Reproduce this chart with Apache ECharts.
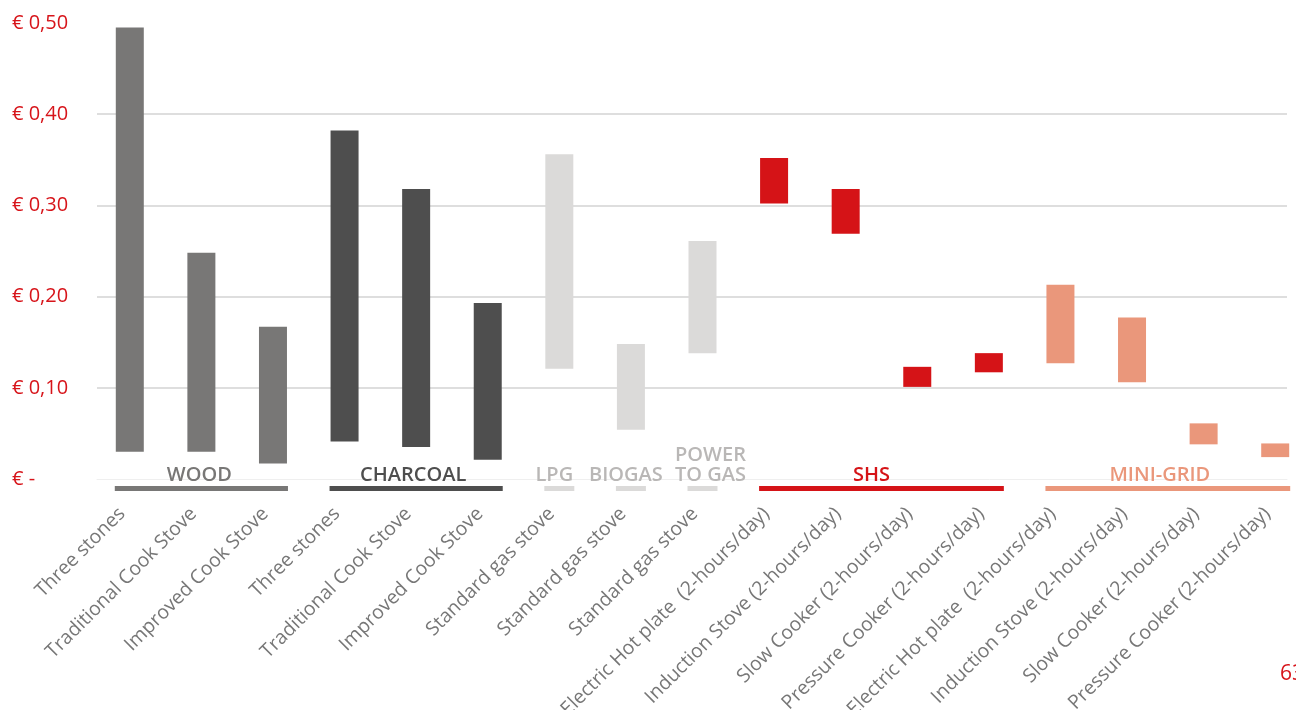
<!DOCTYPE html>
<html>
<head>
<meta charset="utf-8">
<script src="https://cdn.jsdelivr.net/npm/echarts@6/dist/echarts.min.js"></script>
<style>
html,body{margin:0;padding:0;background:#fff;}
#chart{width:1296px;height:710px;}
</style>
</head>
<body>
<div id="chart"></div>
<script>
const categories = [
  'Three stones', 'Traditional Cook Stove', 'Improved Cook Stove',
  'Three stones', 'Traditional Cook Stove', 'Improved Cook Stove',
  'Standard gas stove', 'Standard gas stove', 'Standard gas stove',
  'Electric Hot plate  (2-hours/day)', 'Induction Stove (2-hours/day)', 'Slow Cooker (2-hours/day)', 'Pressure Cooker (2-hours/day)',
  'Electric Hot plate  (2-hours/day)', 'Induction Stove (2-hours/day)', 'Slow Cooker (2-hours/day)', 'Pressure Cooker (2-hours/day)'
];
const lowValues  = [0.030, 0.030, 0.017, 0.041, 0.035, 0.021, 0.121, 0.054, 0.138, 0.302, 0.269, 0.101, 0.117, 0.127, 0.106, 0.038, 0.024];
const highValues = [0.495, 0.248, 0.167, 0.382, 0.318, 0.193, 0.356, 0.148, 0.261, 0.352, 0.318, 0.123, 0.138, 0.213, 0.177, 0.061, 0.039];
const groupNames = ['WOOD', 'CHARCOAL', 'LPG', 'BIOGAS', 'POWER\nTO GAS', 'SHS', 'MINI-GRID'];
const groupStart = [0, 3, 6, 7, 8, 9, 13];
const groupEnd   = [2, 5, 6, 7, 8, 12, 16];
const pageNumber = '63';

// styling
const groupBarColors  = ['#787776', '#4e4e4e', '#dbdad9', '#dbdad9', '#dbdad9', '#d51317', '#ea977b'];
const groupTextColors = ['#787776', '#4e4e4e', '#b9b7b6', '#b9b7b6', '#b9b7b6', '#d51317', '#ea977b'];
const groupLabelShift = [-2, -3, -5, -5, 8, -10, -8];
const RED = '#d7141a';
const BAR_W = 28;

function groupOf(i) {
  for (let g = 0; g < groupStart.length; g++) {
    if (i >= groupStart[g] && i <= groupEnd[g]) return g;
  }
  return 0;
}

const rangeData = highValues.map((h, i) => ({
  value: +(h - lowValues[i]).toFixed(4),
  itemStyle: { color: groupBarColors[groupOf(i)] }
}));

const groupData = groupNames.map((n, g) => [groupStart[g], groupEnd[g], g]);

const chart = echarts.init(document.getElementById('chart'));
chart.setOption({
  animation: false,
  backgroundColor: '#ffffff',
  textStyle: { fontFamily: 'Open Sans' },
  grid: [
    { left: 97, right: 9, top: 23, bottom: 231, outerBoundsMode: 'none', containLabel: false },
    { left: 94, width: 1217, top: 23, bottom: 231, outerBoundsMode: 'none', containLabel: false }
  ],
  xAxis: [
    {
      gridIndex: 0, type: 'category', data: categories,
      axisLine: { show: true, lineStyle: { color: '#efefef', width: 1 } },
      axisTick: { show: false }, axisLabel: { show: false }, splitLine: { show: false }
    },
    {
      gridIndex: 1, type: 'category', data: categories,
      axisLine: { show: false }, axisTick: { show: false },
      axisLabel: {
        interval: 0, rotate: 45, margin: 24, hideOverlap: false,
        padding: [0, 11, 0, 0],
        fontSize: 19.5, color: '#777777', fontFamily: 'Open Sans'
      }
    }
  ],
  yAxis: [
    {
      gridIndex: 0, type: 'value', min: 0, max: 0.5, interval: 0.1,
      axisLine: { show: false }, axisTick: { show: false },
      splitLine: { show: true, showMinLine: false, showMaxLine: false, lineStyle: { color: '#dedede', width: 2 } },
      axisLabel: {
        align: 'left', margin: 85, fontSize: 20, color: RED, fontFamily: 'Open Sans',
        formatter: v => v === 0 ? '€ -' : '€ ' + v.toFixed(2).replace('.', ',')
      }
    },
    {
      gridIndex: 1, type: 'value', min: 0, max: 0.5, interval: 0.1, show: false,
      splitLine: { show: false }
    }
  ],
  series: [
    {
      type: 'bar', xAxisIndex: 1, yAxisIndex: 1, stack: 'range',
      barWidth: BAR_W, silent: true,
      itemStyle: { color: 'rgba(0,0,0,0)' },
      data: lowValues
    },
    {
      type: 'bar', xAxisIndex: 1, yAxisIndex: 1, stack: 'range',
      barWidth: BAR_W,
      data: rangeData
    },
    {
      type: 'custom', xAxisIndex: 1, yAxisIndex: 1, clip: false, silent: true,
      data: groupData,
      encode: { x: [0, 1] },
      renderItem: function (params, api) {
        const s = api.value(0), e = api.value(1), g = api.value(2);
        const p1 = api.coord([s, 0]);
        const p2 = api.coord([e, 0]);
        const x1 = p1[0] - BAR_W / 2 - 1, x2 = p2[0] + BAR_W / 2 + 1;
        const y0 = p1[1];
        return {
          type: 'group',
          children: [
            {
              type: 'rect',
              shape: { x: x1, y: y0 + 7, width: x2 - x1, height: 5 },
              style: { fill: groupBarColors[g] }
            },
            {
              type: 'text',
              style: {
                x: (x1 + x2) / 2 + groupLabelShift[g], y: y0 + 6,
                text: groupNames[g],
                align: 'center', verticalAlign: 'bottom',
                fontSize: 20, fontWeight: 600, lineHeight: 20,
                fontFamily: 'Open Sans',
                fill: groupTextColors[g]
              }
            }
          ]
        };
      }
    }
  ],
  graphic: [
    {
      type: 'text', left: 1280, top: 664,
      style: { text: pageNumber, fontSize: 21, fill: RED, fontFamily: 'Open Sans' }
    }
  ]
});
</script>
</body>
</html>
